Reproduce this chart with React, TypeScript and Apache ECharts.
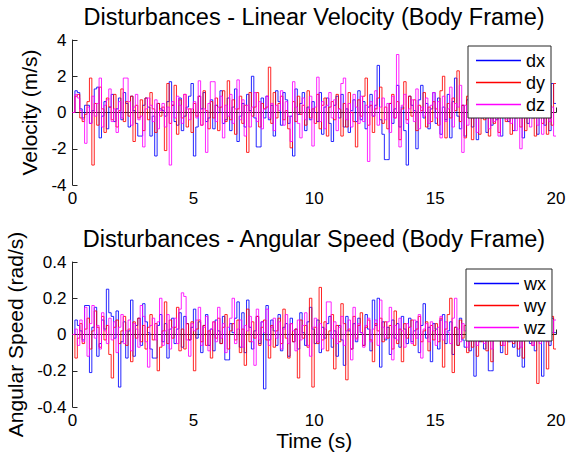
import React, { useEffect, useRef } from 'react';
import * as echarts from 'echarts';

// sample period (s) and end time of the stairs plots
const DT = 0.1;
const T_END = 20;

const velTitle = 'Disturbances - Linear Velocity (Body Frame)';
const angTitle = 'Disturbances - Angular Speed (Body Frame)';
const velNames = ['dx', 'dy', 'dz'];
const angNames = ['wx', 'wy', 'wz'];
const colors = ['#0000ff', '#ff0000', '#ff00ff'];

// Linear velocity disturbances (m/s), one value per 0.1 s
const dx = [
  0, 1.2, 1.1, 0.2, -0.3, 0.4, 0.4, -0.6, 0.1, 1.3,
  1.4, -1.4, -0.2, 0.6, -0.9, 0.3, 1.0, -0.5, 0.2, 0.8,
  -0.4, 1.1, 0.5, -0.8, 0.9, 0.1, -0.6, -1.3, -1.3, 0.4,
  0.8, 0.3, -1.3, -0.2, -2.4, 0.5, 0.2, 0.1, -0.2, 0.6,
  1.7, 0.4, -0.5, -0.7, 0.8, -1.0, -0.2, 0.3, 0.9, 1.6,
  -2.4, -0.8, 0.9, 0.2, 1.1, -0.5, -0.3, 0.7, -0.9, 0.4,
  0.0, 1.2, -0.6, -0.4, 0.8, -1.0, 0.3, 1.3, -1.6, -0.2,
  0.5, -0.8, 1.0, 0.1, 2.0, -0.3, -1.9, -1.9, 0.8, -0.3,
  0.9, -0.4, 0.4, -1.3, 1.2, 0.6, -0.7, 1.1, 0.7, -0.6,
  -0.2, -2.4, 1.3, -0.1, 0.5, 1.1, -1.0, 0.3, -0.4, 0.6,
  0.0, -0.5, 1.1, -1.2, 0.3, 0.8, -0.6, -1.6, 0.4, 0.9,
  -0.3, 1.0, -0.8, 0.2, -1.1, 0.1, 0.7, -0.5, 1.2, -0.4,
  0.6, -0.9, 0.3, 1.0, -0.2, 0.4, 2.6, -0.4, -1.2, -2.6,
  -2.6, 0.5, -0.6, 0.2, 1.5, -0.8, 0.3, -1.0, -2.9, 0.9,
  0.4, 0.1, -2.0, 0.7, 1.5, -0.3, 0.5, -0.9, 0.2, 1.1,
  -0.6, 0.8, -1.2, 0.3, -0.4, 1.0, -1.4, 0.6, 1.9, -0.2,
  -0.9, 0.4, -1.3, 0.7, 0.1, -0.8, 0.9, -1.5, 0.3, -0.3,
  0.6, -1.1, 0.2, -0.7, 1.0, -0.4, 0.5, -1.3, 0.8, 0.0,
  -0.5, 0.9, -1.0, 0.3, -0.2, 0.7, -1.4, 0.4, -0.6, 1.1,
  -0.3, 0.6, -1.2, 0.2, 0.9, -0.7, 0.3, -1.0, 1.6, 0.5,
];
const dy = [
  0, 0.9, 1.0, -0.3, -0.5, -0.1, 0.6, 1.9, -2.9, 0.5,
  -0.7, 1.4, 0.2, -1.1, 0.8, 0.3, -0.4, 1.0, -0.8, 0.1,
  1.3, -0.5, 0.6, -0.2, 0.9, -1.6, 0.4, -0.3, 0.7, -1.0,
  0.8, -0.4, 1.1, 0.2, -1.1, 0.5, -0.2, 0.3, -2.1, 1.6,
  -0.6, 0.4, 1.5, -1.2, 0.7, -0.3, 1.0, -0.8, 0.2, -1.1,
  0.5, -0.2, 0.9, -0.7, 1.2, 0.1, -0.9, 0.6, -0.3, 0.8,
  -1.0, 0.3, 1.2, -0.5, 1.75, -0.4, 0.7, -1.2, 0.2, 0.9,
  -0.6, 0.4, -2.2, 1.1, -0.2, 0.3, 1.1, -0.8, 0.5, 0.2,
  0.3, 2.5, -0.6, 1.1, -0.3, 0.5, 0.9, -0.4, 0.1, -0.9,
  -1.95, 0.6, -0.5, 0.9, -0.1, 0.4, -0.7, 1.2, -0.3, 0.2,
  -0.6, 1.0, -0.9, 0.4, 0.8, -1.3, 0.3, 0.6, -0.4, 1.0,
  0.2, -1.3, 0.5, -0.8, 1.1, 0.0, -0.5, -1.9, 0.7, -0.2,
  0.9, 1.9, -0.7, 0.4, -1.1, 0.2, 0.8, 1.4, -0.6, 0.3,
  -0.9, 0.5, 1.0, -0.3, 0.6, -1.5, 0.2, 1.7, -0.4, 0.9,
  -0.2, 0.7, -1.0, 0.4, 0.1, 1.1, -0.8, 0.3, -0.5, 0.6,
  0.2, -0.7, 1.2, 2.0, -1.4, 0.5, -0.3, 0.8, 0.1, 2.3,
  -0.5, 0.4, -1.4, 0.9, -0.2, -1.5, 0.6, 0.3, -1.2, 0.7,
  -0.4, 0.2, -1.3, 1.0, -0.6, 0.5, -1.1, 0.3, 0.8, -0.5,
  0.1, -1.2, 0.6, -0.3, 1.1, -0.8, 0.4, -1.0, 0.7, -0.2,
  0.5, -1.3, 0.9, 0.2, -0.6, 1.3, -1.2, 0.4, -0.7, 1.6,
];
const dz = [
  0, 1.0, 0.8, 0.1, -0.4, -1.7, 0.3, -0.6, 0.9, -0.2,
  0.5, 1.9, -0.8, 0.4, 0.7, 1.3, -0.5, 0.2, -1.1, 0.6,
  -0.3, 1.9, 1.9, 0.6, -0.7, 0.3, 1.0, -0.4, -0.2, -1.9,
  0.2, 0.8, 0.4, -0.5, 0.7, -0.9, 0.1, 0.5, -0.8, 0.3,
  -2.9, 0.6, -0.3, 0.9, 0.4, -0.6, 1.0, 0.2, -0.4, 0.2,
  0.6, -0.3, 1.75, -0.7, 0.2, -2.2, 0.5, 1.7, 1.7, -0.5,
  0.3, 0.9, -1.4, 0.4, -0.2, 1.0, -0.6, 0.2, 1.8, -0.4,
  0.7, -1.3, 0.4, -0.8, 0.3, 1.1, -0.5, 0.6, -0.9, 0.2,
  0.9, -0.3, 0.5, -1.0, 0.4, 0.1, 1.2, -0.7, 0.6, -0.2,
  -1.6, 1.7, 0.3, -0.6, -1.4, 0.8, -0.4, 0.2, 0.9, -1.85,
  0.3, 1.95, -0.5, 0.6, -0.9, 0.4, 1.1, -0.3, 0.7, -1.0,
  0.2, 1.6, 1.9, -0.4, 0.5, -0.8, 1.0, 0.3, -0.6, 0.9,
  -0.5, 0.4, -2.7, 0.6, -0.2, 1.2, -0.7, 0.3, 0.8, -0.4,
  0.5, -1.1, 0.9, -0.3, 3.2, -1.9, 0.4, 1.0, -0.6, 0.2,
  0.7, -0.5, 1.3, -0.9, 0.3, -0.2, 0.8, -0.6, 0.4, 1.1,
  -0.3, 0.6, -1.4, 0.9, -0.5, 0.2, 1.4, -0.8, 0.5, 0.3,
  1.5, -2.2, 0.4, -0.7, 1.2, -0.3, 0.6, -1.1, 0.9, -0.2,
  0.4, 1.0, -0.9, 0.3, -0.5, 0.8, -1.3, 0.2, 0.7, -0.4,
  1.1, -0.6, 0.3, -1.0, 0.5, -2.0, 0.9, -0.3, 0.6, -0.8,
  0.2, 1.0, -0.7, 0.4, -1.2, 0.5, 0.9, -0.5, 0.3, -1.3,
];

// Angular speed disturbances (rad/s), one value per 0.1 s
const wx = [
  0, 0.08, 0.05, 0.02, -0.03, 0.16, 0.16, -0.21, 0.04, 0.15,
  -0.12, -0.05, 0.08, 0.03, 0.25, 0.12, 0.10, -0.02, 0.13, -0.29,
  -0.04, 0.07, -0.13, 0.02, 0.19, -0.12, 0.05, 0.09, -0.06, 0.17,
  0.07, 0.01, -0.08, -0.13, -0.13, 0.05, 0.11, -0.04, 0.06, -0.13,
  0.03, 0.09, -0.05, 0.03, 0.12, -0.07, 0.10, 0.06, -0.03, 0.04,
  0.14, -0.02, 0.07, -0.10, 0.05, 0.11, -0.06, 0.03, -0.09, 0.08,
  0.02, -0.05, 0.10, -0.14, -0.14, 0.06, 0.01, 0.09, 0.18, -0.07,
  0.12, -0.10, 0.19, 0.04, -0.08, 0.02, 0.10, -0.05, 0.07, -0.30,
  0.16, -0.03, 0.08, 0.02, -0.06, 0.11, -0.09, 0.04, 0.06, -0.12,
  0.09, -0.04, 0.03, -0.08, 0.12, 0.01, -0.06, 0.07, 0.15, 0.03,
  -0.05, 0.08, -0.10, 0.04, -0.02, 0.06, 0.10, -0.07, 0.02, -0.12,
  0.05, -0.03, -0.17, 0.10, 0.02, -0.08, 0.06, -0.04, 0.09, 0.01,
  -0.06, 0.11, 0.03, -0.09, 0.19, 0.05, 0.20, -0.18, 0.07, -0.03,
  0.04, -0.11, 0.08, -0.02, 0.06, -0.07, 0.10, 0.03, -0.05, 0.09,
  -0.04, 0.02, 0.07, -0.10, 0.05, 0.17, -0.02, 0.04, -0.15, 0.06,
  0.03, -0.08, 0.08, 0.11, -0.05, 0.02, 0.07, -0.11, 0.04, -0.06,
  0.09, -0.03, -0.07, 0.05, -0.09, 0.02, -0.23, 0.06, -0.04, 0.03,
  -0.08, 0.04, -0.20, -0.20, 0.07, -0.03, 0.05, -0.10, 0.02, 0.06,
  -0.04, 0.08, -0.07, 0.03, -0.12, 0.05, -0.18, 0.01, 0.06, -0.05,
  0.04, -0.09, 0.07, -0.02, -0.23, 0.05, 0.02, -0.06, 0.09, 0.01,
];
const wy = [
  0, -0.13, -0.02, 0.06, -0.05, 0.03, 0.09, -0.08, 0.02, 0.13,
  0.04, -0.07, 0.10, -0.03, 0.05, -0.11, -0.24, 0.04, 0.08, -0.05,
  0.02, 0.10, -0.06, 0.03, -0.15, 0.07, -0.02, 0.09, -0.04, 0.05,
  -0.08, 0.04, 0.11, -0.03, 0.06, -0.20, -0.07, 0.02, 0.18, -0.05,
  0.08, -0.02, 0.04, 0.15, -0.09, 0.03, -0.08, 0.06, -0.03, 0.07,
  -0.20, 0.03, 0.08, -0.04, 0.05, -0.06, 0.02, -0.13, 0.07, -0.02,
  0.09, -0.05, 0.04, 0.11, -0.08, 0.02, 0.06, -0.03, 0.08, -0.10,
  0.03, -0.17, 0.14, -0.04, 0.07, -0.02, 0.10, -0.06, 0.04, 0.08,
  -0.03, -0.13, 0.05, -0.07, 0.02, 0.09, -0.05, 0.14, -0.02, -0.13,
  0.06, -0.04, 0.03, -0.24, 0.08, -0.02, 0.05, -0.07, 0.20, -0.29,
  0.04, -0.05, 0.26, -0.03, 0.07, -0.09, 0.02, 0.11, -0.19, 0.05,
  -0.04, 0.17, 0.06, -0.25, 0.03, -0.08, 0.10, -0.02, 0.05, 0.12,
  -0.06, 0.04, 0.08, -0.03, -0.15, 0.06, 0.02, 0.09, -0.04, 0.07,
  -0.02, 0.05, -0.08, 0.13, -0.05, 0.03, -0.15, 0.06, -0.02, 0.04,
  0.08, -0.06, 0.03, 0.10, -0.04, 0.02, 0.07, -0.09, 0.05, -0.03,
  0.06, -0.04, 0.09, -0.18, 0.03, 0.11, 0.20, -0.21, 0.04, -0.06,
  0.08, -0.02, 0.05, -0.10, 0.03, -0.07, 0.06, -0.12, 0.02, -0.04,
  0.07, -0.09, 0.03, -0.15, 0.05, -0.02, 0.08, -0.06, 0.04, -0.11,
  0.02, 0.09, -0.05, 0.06, -0.08, 0.03, -0.13, 0.05, -0.03, 0.07,
  -0.06, 0.04, -0.27, 0.08, -0.02, 0.05, -0.19, 0.03, 0.10, -0.08,
];
const wz = [
  0, 0.03, -0.06, 0.08, -0.04, 0.15, -0.12, 0.06, 0.16, -0.02,
  0.05, -0.08, 0.12, 0.02, -0.05, 0.09, -0.03, 0.07, -0.10, 0.04,
  0.11, -0.05, 0.02, 0.08, -0.09, 0.06, 0.03, -0.07, 0.16, 0.10,
  -0.04, -0.18, 0.05, 0.09, -0.03, 0.07, 0.20, -0.06, 0.02, 0.11,
  -0.08, 0.04, 0.09, -0.05, 0.14, 0.23, 0.21, -0.03, -0.12, 0.06,
  0.02, 0.08, 0.15, -0.06, 0.04, 0.10, -0.09, 0.03, 0.07, -0.04,
  0.15, -0.02, 0.06, -0.10, 0.04, 0.09, 0.20, -0.05, 0.03, 0.08,
  -0.07, 0.05, 0.02, 0.10, -0.04, -0.17, 0.14, -0.03, 0.07, 0.01,
  0.14, -0.06, 0.04, 0.09, -0.02, 0.07, -0.08, 0.03, 0.11, -0.05,
  0.06, 0.02, -0.09, 0.08, -0.03, 0.05, 0.12, -0.06, -0.12, 0.04,
  0.09, -0.04, 0.06, -0.08, 0.03, 0.18, 0.18, -0.02, 0.07, -0.05,
  0.04, 0.10, -0.06, 0.02, 0.08, -0.14, 0.15, -0.03, 0.06, 0.01,
  -0.07, 0.05, 0.09, -0.04, 0.03, 0.08, -0.06, 0.19, 0.04, -0.02,
  0.07, 0.15, -0.14, 0.05, -0.03, 0.09, 0.02, -0.07, 0.06, 0.04,
  -0.05, 0.08, -0.02, 0.11, -0.13, 0.03, 0.06, -0.04, 0.07, 0.02,
  -0.06, 0.04, 0.10, -0.03, 0.07, 0.01, -0.05, 0.09, 0.20, 0.03,
  -0.04, 0.06, 0.02, -0.07, 0.08, -0.02, 0.05, -0.06, 0.03, 0.07,
  -0.05, 0.02, 0.06, -0.08, 0.04, -0.03, 0.07, 0.01, -0.06, 0.05,
  0.03, -0.04, 0.08, -0.02, 0.05, -0.07, 0.02, 0.06, -0.03, 0.04,
  -0.06, 0.03, 0.07, -0.05, 0.02, 0.05, -0.04, 0.08, 0.01, 0.08,
];

const FONT = "'Liberation Sans', Arial, sans-serif";

function toStairs(vals: number[]): number[][] {
  const pts = vals.map((v, i) => [Math.round(i * DT * 10) / 10, v]);
  pts.push([T_END, vals[vals.length - 1]]);
  return pts;
}

const axisLine = { lineStyle: { color: '#262626', width: 1 } };
const axisTick = { inside: true, length: 5, lineStyle: { color: '#262626', width: 1 } };
const axisLabel = { color: '#000', fontSize: 17, fontFamily: FONT };
const nameStyle = { color: '#000', fontSize: 21, fontFamily: FONT };

export default function App() {
  const ref = useRef<HTMLDivElement>(null);
  useEffect(() => {
    if (!ref.current) return;
    const chart = echarts.init(ref.current, null, { renderer: 'svg' });
    const legendBase = {
      orient: 'vertical' as const,
      icon: 'rect',
      itemWidth: 45,
      itemHeight: 1.5,
      itemGap: 1,
      padding: [4, 6, 3, 8],
      backgroundColor: '#fff',
      borderColor: '#262626',
      borderWidth: 1,
      borderRadius: 0,
      selectedMode: false,
      textStyle: { color: '#000', fontSize: 18, fontFamily: FONT, lineHeight: 21 },
    };
    const mk = (name: string, vals: number[], color: string, idx: number) => ({
      name,
      type: 'line',
      xAxisIndex: idx,
      yAxisIndex: idx,
      data: toStairs(vals),
      step: 'end',
      showSymbol: false,
      symbol: 'none',
      lineStyle: { color, width: 1, opacity: 0.85 },
      itemStyle: { color },
      emphasis: { disabled: true },
      silent: true,
    });
    chart.setOption({
      animation: false,
      backgroundColor: '#fff',
      textStyle: { fontFamily: FONT },
      graphic: [
        {
          type: 'text', x: 314, y: 17,
          style: { text: velTitle, fontSize: 23.5, fontFamily: FONT, fill: '#000', textAlign: 'center', textVerticalAlign: 'middle' },
        },
        {
          type: 'text', x: 314, y: 239,
          style: { text: angTitle, fontSize: 23.5, fontFamily: FONT, fill: '#000', textAlign: 'center', textVerticalAlign: 'middle' },
        },
      ],
      grid: [
        { left: 72.5, top: 40, width: 483.5, height: 145, outerBoundsMode: 'none', containLabel: false },
        { left: 72.5, top: 262, width: 483.5, height: 145, outerBoundsMode: 'none', containLabel: false },
      ],
      xAxis: [0, 1].map((i) => ({
        type: 'value',
        gridIndex: i,
        min: 0,
        max: T_END,
        interval: 5,
        axisLine, axisTick,
        axisLabel: { ...axisLabel, margin: 5 },
        splitLine: { show: false },
        name: i === 1 ? 'Time (s)' : '',
        nameLocation: 'middle',
        nameGap: 23,
        nameTextStyle: nameStyle,
      })),
      yAxis: [
        {
          type: 'value', gridIndex: 0, min: -4, max: 4, interval: 2,
          axisLine: { show: true, ...axisLine }, axisTick,
          axisLabel: { ...axisLabel, margin: 6 },
          splitLine: { show: false },
          name: 'Velocity (m/s)', nameLocation: 'middle', nameGap: 24, nameRotate: 90,
          nameTextStyle: nameStyle,
        },
        {
          type: 'value', gridIndex: 1, min: -0.4, max: 0.4, interval: 0.2,
          axisLine: { show: true, ...axisLine }, axisTick,
          axisLabel: { ...axisLabel, margin: 6, formatter: (v: number) => String(Math.round(v * 10) / 10) },
          splitLine: { show: false },
          name: 'Angular Speed (rad/s)', nameLocation: 'middle', nameGap: 42, nameRotate: 90,
          nameTextStyle: nameStyle,
        },
      ],
      legend: [
        { ...legendBase, data: velNames, left: 468, top: 46 },
        { ...legendBase, data: angNames, left: 466, top: 269 },
      ],
      series: [
        mk(velNames[0], dx, colors[0], 0),
        mk(velNames[1], dy, colors[1], 0),
        mk(velNames[2], dz, colors[2], 0),
        mk(angNames[0], wx, colors[0], 1),
        mk(angNames[1], wy, colors[1], 1),
        mk(angNames[2], wz, colors[2], 1),
      ],
    });
    return () => chart.dispose();
  }, []);
  return (
    <div
      ref={ref}
      style={{ position: 'absolute', left: 0, top: 0, width: 569, height: 459 }}
    />
  );
}
